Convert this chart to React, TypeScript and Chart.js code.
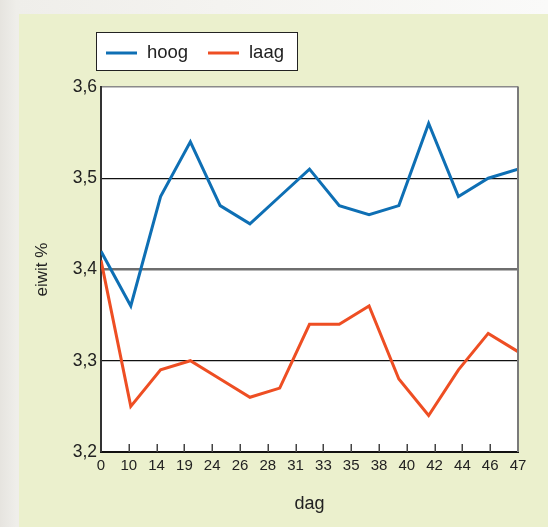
import React, { useEffect, useRef } from "react";
import { Chart, registerables } from "chart.js";

Chart.register(...registerables);

const dagLabels = ["0", "10", "14", "19", "24", "26", "28", "31", "33", "35", "38", "40", "42", "44", "46", "47"];
const hoog = [3.42, 3.36, 3.48, 3.54, 3.47, 3.45, 3.48, 3.51, 3.47, 3.46, 3.47, 3.56, 3.48, 3.5, 3.51];
const laag = [3.41, 3.25, 3.29, 3.3, 3.28, 3.26, 3.27, 3.34, 3.34, 3.36, 3.28, 3.24, 3.29, 3.33, 3.31];
const seriesNames = ["hoog", "laag"];
const yTicks = { min: 3.2, max: 3.6, step: 0.1 };

const FONT = "'Liberation Sans', Arial, Helvetica, sans-serif";
const TEXT = "#222";
const BLUE = "#0e6fb4";
const ORANGE = "#ee4e23";

const plotBg = {
  id: "plotBg",
  beforeDraw(chart: any) {
    const { ctx, chartArea: a } = chart;
    ctx.save();
    ctx.fillStyle = "#ffffff";
    ctx.fillRect(a.left, a.top, a.right - a.left, a.bottom - a.top);
    ctx.restore();
  },
};

const decorations = {
  id: "decorations",
  afterDraw(chart: any) {
    const { ctx, chartArea: a } = chart;
    const xs = chart.scales.x;
    ctx.save();
    // right border
    ctx.strokeStyle = "#7a7a7a";
    ctx.lineWidth = 2;
    ctx.beginPath();
    ctx.moveTo(a.right, a.top - 0.5);
    ctx.lineTo(a.right, a.bottom);
    ctx.stroke();
    // inner tick marks
    ctx.strokeStyle = "#444";
    ctx.lineWidth = 1.5;
    const n = xs.ticks.length;
    for (let i = 1; i < n - 1; i++) {
      const x = Math.round(xs.getPixelForTick(i)) + 0.25;
      ctx.beginPath();
      ctx.moveTo(x, a.bottom);
      ctx.lineTo(x, a.bottom - 8);
      ctx.stroke();
    }
    // legend box
    const bx = a.left - 5;
    const by = a.top - 55;
    const bw = 201;
    const bh = 38;
    ctx.fillStyle = "#ffffff";
    ctx.fillRect(bx, by, bw, bh);
    ctx.strokeStyle = "#222";
    ctx.lineWidth = 1;
    ctx.strokeRect(bx + 0.5, by + 0.5, bw, bh);
    ctx.font = `18.5px ${FONT}`;
    ctx.textBaseline = "middle";
    ctx.fillStyle = TEXT;
    const offsets = [10, 112];
    chart.data.datasets.forEach((ds: any, i: number) => {
      const lx = bx + offsets[i];
      const ly = by + 21;
      ctx.strokeStyle = ds.borderColor;
      ctx.lineWidth = 3;
      ctx.beginPath();
      ctx.moveTo(lx, ly);
      ctx.lineTo(lx + 31, ly);
      ctx.stroke();
      ctx.fillText(ds.label, lx + 41, ly);
    });
    ctx.restore();
  },
};

export default function App() {
  const ref = useRef<HTMLCanvasElement | null>(null);

  useEffect(() => {
    if (!ref.current) return;
    const isVal = (v: number, t: number) => Math.abs(v - t) < 1e-6;
    const chart = new Chart(ref.current, {
      type: "line",
      data: {
        datasets: [
          {
            label: seriesNames[0],
            data: hoog.map((v, i) => ({ x: i, y: v })),
            borderColor: BLUE,
            backgroundColor: BLUE,
            borderWidth: 3,
            pointRadius: 0,
            tension: 0,
            xAxisID: "xd",
          },
          {
            label: seriesNames[1],
            data: laag.map((v, i) => ({ x: i, y: v })),
            borderColor: ORANGE,
            backgroundColor: ORANGE,
            borderWidth: 3,
            pointRadius: 0,
            tension: 0,
            xAxisID: "xd",
          },
        ],
      },
      options: {
        animation: false,
        responsive: false,
        layout: { padding: { left: 19, top: 87, right: 30, bottom: 0 } },
        plugins: { legend: { display: false }, tooltip: { enabled: false } },
        scales: {
          xd: {
            type: "linear",
            display: false,
            min: 0,
            max: hoog.length - 1,
          },
          x: {
            type: "category",
            labels: dagLabels,
            offset: false,
            grid: { display: false, drawTicks: false },
            border: { display: true, color: "#111", width: 2 },
            ticks: {
              autoSkip: false,
              maxRotation: 0,
              padding: 5,
              color: TEXT,
              font: { family: FONT, size: 15 },
            },
            title: {
              display: true,
              text: "dag",
              color: TEXT,
              font: { family: FONT, size: 18 },
              padding: { top: 0, bottom: 12 },
            },
            afterFit(scale: any) {
              scale.height = 75;
            },
          },
          y: {
            type: "linear",
            min: yTicks.min,
            max: yTicks.max,
            ticks: {
              stepSize: yTicks.step,
              padding: 4,
              color: TEXT,
              font: { family: FONT, size: 17.5 },
              callback: (v: any) => Number(v).toFixed(1).replace(".", ","),
            },
            grid: {
              drawTicks: false,
              color: (c: any) => {
                const v = c.tick ? c.tick.value : 0;
                if (isVal(v, 3.4)) return "#6e6e6e";
                if (isVal(v, 3.6)) return "#8a8a8a";
                return "#111";
              },
              lineWidth: (c: any) => {
                const v = c.tick ? c.tick.value : 0;
                if (isVal(v, 3.4)) return 2.5;
                if (isVal(v, 3.6)) return 1.5;
                return 1.2;
              },
            },
            border: { display: true, color: "#333", width: 2 },
            title: {
              display: true,
              text: "eiwit %",
              color: TEXT,
              font: { family: FONT, size: 17 },
              padding: { top: 13, bottom: 0 },
            },
            afterFit(scale: any) {
              scale.width = 82;
            },
          },
        },
      },
      plugins: [plotBg, decorations],
    } as any);
    return () => chart.destroy();
  }, []);

  return (
    <div
      style={{
        position: "fixed",
        left: 0,
        top: 0,
        width: 548,
        height: 527,
        overflow: "hidden",
        background: "linear-gradient(90deg, #e6e4df 0%, #efeeea 3%, #f4f3f0 40%, #fafaf9 100%)",
      }}
    >
      <div
        style={{
          position: "absolute",
          left: 19,
          top: 14,
          right: 0,
          bottom: 0,
          background: "#ebf0cd",
        }}
      />
      <canvas
        ref={ref}
        width={548}
        height={527}
        style={{ position: "absolute", left: 0, top: 0, width: 548, height: 527 }}
      />
    </div>
  );
}
